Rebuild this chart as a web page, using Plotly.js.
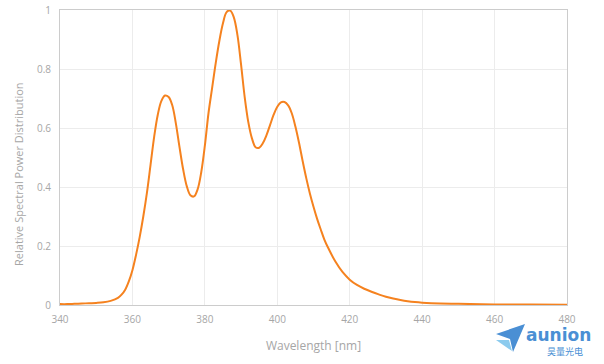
<!DOCTYPE html>
<html><head><meta charset="utf-8">
<script src="https://cdn.plot.ly/plotly-3.0.1.min.js"></script>
<style>html,body{margin:0;padding:0;background:#fff}#c{width:604px;height:364px}</style>
</head><body><div id="c"></div>
<script>
var wavelength = [340,342,344,346,348,350,352,354,356,357,358,359,360,361,362,363,364,365,366,367,368,369,370,371,372,373,374,375,376,377,378,379,380,381,382,383,384,385,386,387,388,389,390,391,392,393,394,395,396,397,398,399,400,401,402,403,404,405,406,407,408,409,410,411,412,413,414,416,418,420,422,424,426,428,430,432,434,436,438,440,445,450,460,470,480];
var power = [0.003,0.003,0.004,0.005,0.006,0.007,0.009,0.014,0.024,0.035,0.052,0.080,0.118,0.170,0.230,0.300,0.380,0.475,0.570,0.645,0.692,0.710,0.705,0.677,0.615,0.535,0.460,0.403,0.372,0.368,0.392,0.450,0.540,0.650,0.735,0.820,0.895,0.955,0.993,0.998,0.975,0.915,0.815,0.705,0.620,0.565,0.535,0.533,0.548,0.575,0.610,0.645,0.672,0.687,0.688,0.677,0.650,0.605,0.550,0.488,0.430,0.378,0.333,0.292,0.256,0.222,0.195,0.148,0.112,0.086,0.068,0.055,0.045,0.036,0.028,0.022,0.017,0.013,0.010,0.008,0.005,0.004,0.002,0.0015,0.001];
var xTicks = [340,360,380,400,420,440,460,480];
var yTicks = [0,0.2,0.4,0.6,0.8,1];
var yTickText = ['0','0.2','0.4','0.6','0.8','1'];

var font = "'Open Sans', Lato, sans-serif";
Plotly.newPlot('c', [{
  x: wavelength, y: power, type: 'scatter', mode: 'lines',
  line: {color: '#F5821F', width: 2, shape: 'spline', smoothing: 1},
  hoverinfo: 'skip'
}], {
  width: 604, height: 364,
  margin: {l: 60, r: 37, t: 10, b: 59},
  paper_bgcolor: '#fff', plot_bgcolor: '#fff',
  showlegend: false,
  font: {family: font, color: '#a6a6a6', size: 10},
  xaxis: {
    range: [340, 480], tickvals: xTicks, ticks: 'outside', ticklen: 5, tickcolor: 'rgba(0,0,0,0)',
    showgrid: true, gridcolor: '#ececec',
    showline: true, linecolor: '#cccccc', mirror: true, zeroline: false,
    tickfont: {size: 10, color: '#a6a6a6'},
    title: {text: 'Wavelength [nm]', font: {size: 12, color: '#a6a6a6'}, standoff: 16}
  },
  yaxis: {
    range: [0, 1], tickvals: yTicks, ticktext: yTickText, ticks: 'outside', ticklen: 6, tickcolor: 'rgba(0,0,0,0)',
    showgrid: true, gridcolor: '#ececec',
    showline: true, linecolor: '#cccccc', mirror: true, zeroline: false,
    tickfont: {size: 10, color: '#a6a6a6'}
  },
  annotations: [
    {xref: 'paper', yref: 'paper', x: -0.083, y: 0.444, xanchor: 'center', yanchor: 'middle', showarrow: false, textangle: -90,
     text: 'Relative Spectral Power Distribution', font: {size: 11, color: '#a6a6a6'}},
    {xref: 'paper', yref: 'paper', x: 1.052, y: -0.06, xanchor: 'right', yanchor: 'top', showarrow: false,
     text: '<b>aunion</b>', font: {family: "'DejaVu Sans', sans-serif", size: 17, color: '#4a8fd4'}},
    {xref: 'paper', yref: 'paper', x: 1.035, y: -0.128, xanchor: 'right', yanchor: 'top', showarrow: false,
     text: '昊量光电', font: {family: "'Noto Sans CJK SC', sans-serif", size: 9, color: '#4a8fd4'}}
  ]
}, {displayModeBar: false, staticPlot: true}).then(function(){
  var svgs = document.querySelectorAll('#c .main-svg');
  var svg = svgs[svgs.length - 1];
  var ns = 'http://www.w3.org/2000/svg';
  var g = document.createElementNS(ns, 'g');
  var p1 = document.createElementNS(ns, 'path');
  p1.setAttribute('d', 'M496 334 L525 324 L513 352 L510 339 Z');
  p1.setAttribute('fill', '#4a8fd4');
  var p2 = document.createElementNS(ns, 'path');
  p2.setAttribute('d', 'M496 340 L509 340 L512 351 Z');
  p2.setAttribute('fill', '#8ccbee');
  g.appendChild(p1); g.appendChild(p2);
  svg.appendChild(g);
});
</script></body></html>
